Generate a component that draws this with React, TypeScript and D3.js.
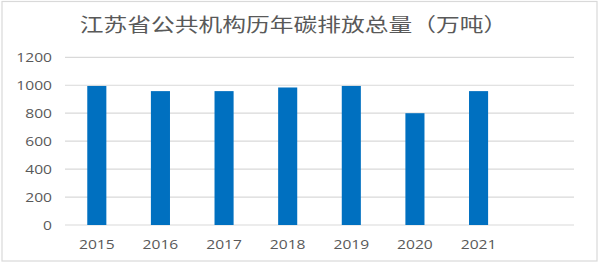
import React from "react";
import * as d3 from "d3";

const title = "江苏省公共机构历年碳排放总量（万吨）";
const categories = ["2015", "2016", "2017", "2018", "2019", "2020", "2021", ""];
const values: (number | null)[] = [995, 958, 958, 984, 995, 800, 958, null];
const yTicks = [0, 200, 400, 600, 800, 1000, 1200];

const W = 600;
const H = 265;
const SX = 1.25; // horizontal stretch of the source image
const TEXT = "#595959";
const GRID = "#d9d9d9";
const BAR = "#0070c0";
const NUM_FONT = "'Open Sans', 'Noto Sans', sans-serif";
const CJK_FONT = "'Noto Sans CJK SC', 'Noto Sans', sans-serif";

export default function App() {
  const left = 65;
  const right = 574;
  const top = 57.3;
  const bottom = 225;

  const x = d3.scaleBand<string>().domain(categories.map((c, i) => i + ":" + c)).range([left, right]).padding(0);
  const y = d3.scaleLinear().domain([0, 1200]).range([bottom, top]);
  const step = x.step();
  const barW = step * 0.3;

  return (
    <svg width={W} height={H} style={{ position: "absolute", left: 0, top: 0, background: "#fff" }}>
      <rect x={2} y={1.5} width={595} height={259.5} fill="#fff" stroke={GRID} strokeWidth={1.2} />
      <text
        transform={`translate(${293.5},${23.5}) scale(${SX},1)`}
        textAnchor="middle"
        dominantBaseline="central"
        fontFamily={CJK_FONT}
        fontSize={19}
        fill={TEXT}
      >
        {title}
      </text>
      {yTicks.map((t) => (
        <g key={t}>
          <line x1={left} x2={right} y1={y(t)} y2={y(t)} stroke={GRID} strokeWidth={1.2} />
          <text
            transform={`translate(${52},${y(t)}) scale(${SX},1)`}
            textAnchor="end"
            dominantBaseline="central"
            fontFamily={NUM_FONT}
            fontSize={12.5}
            fill={TEXT}
          >
            {t}
          </text>
        </g>
      ))}
      {categories.map((c, i) => {
        const key = i + ":" + c;
        const cx = (x(key) as number) + step / 2;
        const v = values[i];
        return (
          <g key={key}>
            {v != null && (
              <rect x={cx - barW / 2} y={y(v)} width={barW} height={y(0) - y(v)} fill={BAR} />
            )}
            {c && (
              <text
                transform={`translate(${cx},${244}) scale(${SX},1)`}
                textAnchor="middle"
                dominantBaseline="central"
                fontFamily={NUM_FONT}
                fontSize={12.5}
                fill={TEXT}
              >
                {c}
              </text>
            )}
          </g>
        );
      })}
    </svg>
  );
}
